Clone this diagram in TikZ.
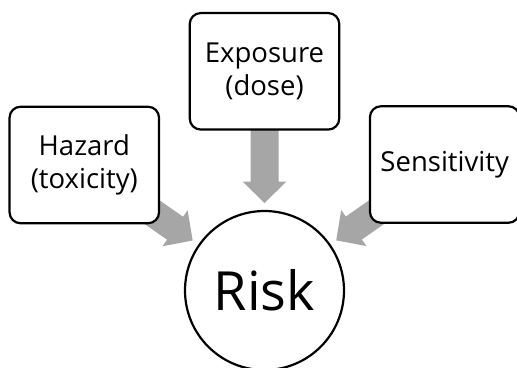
\documentclass[tikz,border=0pt]{standalone}
\usepackage{fontspec}
\setmainfont{Open Sans}
\usetikzlibrary{calc,backgrounds}
\definecolor{arrowgray}{RGB}{166,166,166}
\tikzset{
  box/.style={draw=black, line width=2.2pt, fill=white, rounded corners=11pt,
    minimum width=149.5pt, minimum height=116.5pt, align=center, inner sep=0pt,
    font=\fontsize{27.5}{33.5}\selectfont},
  riskcircle/.style={circle, draw=black, line width=2.2pt, fill=white,
    minimum size=159pt, inner sep=0pt, font=\fontsize{54}{60}\selectfont},
  arrowfill/.style={fill=arrowgray}
}
% block arrow from node #1 toward node #2 (radial)
\newcommand\radarrow[2]{%
  \coordinate (#1-tip) at ($(#2.center)!87.5pt!(#1.center)$);
  \coordinate (#1-neck) at ($(#1-tip)!21.5pt!(#1.center)$);
  \fill[arrowfill] ($(#1.center)!14pt!90:(#1-tip)$)
    -- ($(#1-neck)!14pt!-90:(#1.center)$)
    -- ($(#1-neck)!22pt!-90:(#1.center)$)
    -- (#1-tip)
    -- ($(#1-neck)!22pt!90:(#1.center)$)
    -- ($(#1-neck)!14pt!90:(#1.center)$)
    -- ($(#1.center)!14pt!-90:(#1-tip)$) -- cycle;
}
\begin{document}
\begin{tikzpicture}[x=1pt,y=-1pt]
\useasboundingbox (0,0) rectangle (517,367);
\clip (0,0) rectangle (517,367);
\node[box] (hazard) at (84.3,165) {Hazard\\(toxicity)};
\node[box] (exposure) at (264.5,71.3) {Exposure\\(dose)};
\node[box] (sensitivity) at (444.7,164.5) {Sensitivity};
\node[riskcircle] (risk) at (264.5,290.5) {Risk};
\begin{pgfonlayer}{background}
  \radarrow{hazard}{risk}
  \radarrow{exposure}{risk}
  \radarrow{sensitivity}{risk}
\end{pgfonlayer}
\end{tikzpicture}
\end{document}
